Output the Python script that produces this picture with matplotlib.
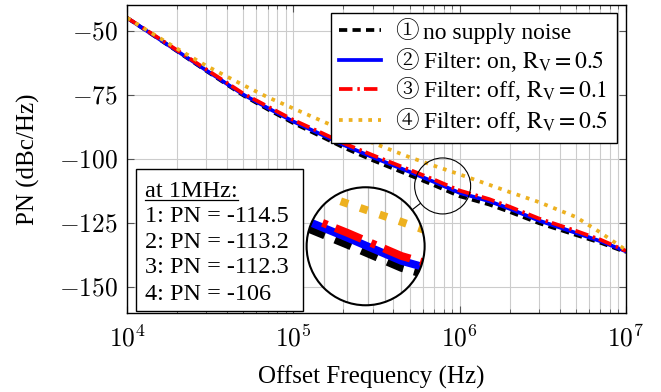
import numpy as np
import matplotlib
matplotlib.use("Agg")
import matplotlib.pyplot as plt
from matplotlib.patches import Circle, Rectangle
from matplotlib.lines import Line2D
from matplotlib.font_manager import FontProperties
from matplotlib.ticker import LogLocator, NullFormatter, FixedLocator
from matplotlib.transforms import IdentityTransform

# ---------------- data ----------------
freq = [1e4, 1.2e4, 2e4, 3e4, 5e4, 7e4, 1e5, 1.5e5, 2e5, 3e5, 5e5, 7e5,
        1e6, 1.5e6, 2e6, 3e6, 5e6, 7e6, 1e7]
pn_no_noise = [-45, -48.4, -58.0, -65.7, -75.2, -80.6, -86.0, -91.5, -95.5, -100.5,
               -106.3, -110.2, -114.5, -117.7, -120.6, -125.0, -129.6, -132.6, -136.3]
pn_filter_on = [-45, -48.4, -57.9, -65.5, -74.9, -80.1, -85.4, -90.7, -94.5, -99.3,
                -105.0, -108.9, -113.2, -116.4, -119.4, -124.0, -128.8, -132.0, -136.0]
pn_off_01 = [-45, -48.2, -57.6, -65.1, -74.5, -79.5, -84.8, -90.0, -93.8, -98.5,
             -104.2, -108.0, -112.3, -115.6, -118.6, -123.2, -128.0, -131.4, -135.8]
pn_off_05 = [-45, -48.2, -57.0, -63.7, -71.2, -75.9, -80.3, -85.3, -88.8, -93.7,
             -99.3, -102.6, -106.0, -110.0, -112.9, -116.8, -122.6, -128.6, -135.5]

circled = ["\u2460", "\u2461", "\u2462", "\u2463"]
label_texts = ["no supply noise",
               "Filter: on, $\\mathrm{R_V} = 0.5$",
               "Filter: off, $\\mathrm{R_V} = 0.1$",
               "Filter: off, $\\mathrm{R_V} = 0.5$"]
pn_at_1mhz = [-114.5, -113.2, -112.3, -106]
yticks = [-150, -125, -100, -75, -50]
xticks = [1e4, 1e5, 1e6, 1e7]
xtick_labels = ["$10^{4}$", "$10^{5}$", "$10^{6}$", "$10^{7}$"]

spy_point = (7.9e5, -110.5)     # centre of small circle (data)
lens_point = (2.72e5, -134.0)   # centre of magnifier (data)

# ---------------- style ----------------
serif = ["Liberation Serif", "DejaVu Serif"]
plt.rcParams["font.family"] = serif
plt.rcParams["mathtext.fontset"] = "cm"

W, H = 661, 392
fig = plt.figure(figsize=(W / 100, H / 100), dpi=100)
ax = fig.add_axes([127 / W, (H - 313) / H, 499 / W, 308 / H])

series = [pn_no_noise, pn_filter_on, pn_off_01, pn_off_05]
styles = [
    dict(color="black", ls=(0, (2.2, 1.4))),
    dict(color="#0000ff", ls="-"),
    dict(color="#ff0000", ls=(0, (3.6, 1.3, 0.65, 1.1))),
    dict(color="#EDB120", ls=(0, (1.0, 1.6))),
]
LW = 2.7
handles = []
for s, st, lab in zip(series, styles, label_texts):
    h, = ax.plot(freq, s, lw=LW, label=lab, dash_capstyle="butt", **st)
    handles.append(h)

ax.set_xscale("log")
ax.set_xlim(1e4, 1e7)
ax.set_ylim(-160, -40)
ax.xaxis.set_major_locator(FixedLocator(xticks))
ax.set_xticklabels(xtick_labels)
ax.xaxis.set_minor_locator(LogLocator(base=10, subs=np.arange(2, 10)))
ax.xaxis.set_minor_formatter(NullFormatter())
ax.set_yticks(yticks)
ax.set_yticklabels([f"${v}$" for v in yticks])
ax.tick_params(which="both", direction="in", top=True, right=True,
               labelsize=18.3, color="#555555")
ax.tick_params(which="major", length=5, width=0.8)
ax.tick_params(which="minor", length=3, width=0.6)
ax.tick_params(axis="y", pad=6.5)
ax.tick_params(axis="x", pad=9)
ax.grid(True, which="major", color="#cccccc", lw=0.8)
ax.grid(True, which="minor", axis="x", color="#cccccc", lw=0.8)
ax.set_axisbelow(True)
for sp in ax.spines.values():
    sp.set_linewidth(1.0)

fig.text(28 / W, 1 - 159 / H, "PN (dBc/Hz)", rotation=90, ha="center",
         va="center", fontsize=18)
fig.text(371 / W, 1 - 384 / H, "Offset Frequency (Hz)", ha="center",
         va="baseline", fontsize=18)

# legend (room between handle and text for the circled number)
lp = FontProperties(family=serif, size=17, math_fontfamily="stix")
leg = ax.legend(handles=handles, loc="upper right",
                bbox_to_anchor=((617 - 127) / 499, (313 - 13) / 308),
                borderaxespad=0, prop=lp, fancybox=False, framealpha=1,
                edgecolor="black", handlelength=1.75, handletextpad=1.78,
                borderpad=0.38, labelspacing=0.23)
leg.get_frame().set_linewidth(1.0)
leg.set_zorder(10)

# annotation box
bx0, bx1 = (136 - 127) / 499, (303 - 127) / 499
by0, by1 = (313 - 311) / 308, (313 - 169) / 308
ax.add_patch(Rectangle((bx0, by0), bx1 - bx0, by1 - by0, transform=ax.transAxes,
                       facecolor="white", edgecolor="black", lw=1.0, zorder=9))
tx = (145 - 127) / 499
baselines = [196.7, 221.9, 247.5, 273.3, 299.5]
lines = ["at 1MHz:"] + [f"{i + 1}: PN = {v:g}" for i, v in enumerate(pn_at_1mhz)]
texts = []
for b, t in zip(baselines, lines):
    texts.append(ax.text(tx, (313 - b) / 308, t, transform=ax.transAxes,
                         fontsize=17.5, va="baseline", ha="left", zorder=11))

fig.canvas.draw()
r = fig.canvas.get_renderer()
bb = texts[0].get_window_extent(r)
yb = ax.transAxes.transform((0, (313 - baselines[0]) / 308))[1] - 3.5
fig.add_artist(Line2D([bb.x0, bb.x1], [yb, yb], transform=IdentityTransform(),
                      color="black", lw=0.9))

# circled numbers in front of the legend entries
cf = FontProperties(family=["Liberation Serif", "Noto Serif CJK JP",
                            "Noto Sans CJK JP", "DejaVu Sans"], size=17)
for t, c in zip(leg.get_texts(), circled):
    px, py = t.get_transform().transform(t.get_position())
    fig.text(px - 28, py, c, fontproperties=cf, transform=IdentityTransform(),
             ha="left", va="baseline", zorder=20)

# ---------------- spy / magnifier ----------------
r_small = 28.0
R_big = 59.0
mag = R_big / r_small
scx, scy = ax.transData.transform(spy_point)
bcx, bcy = ax.transData.transform(lens_point)

small = Circle((scx, scy), r_small, transform=IdentityTransform(), fill=False,
               edgecolor="black", lw=0.8, zorder=12)
fig.add_artist(small)

d = np.array([scx - bcx, scy - bcy])
u = d / np.linalg.norm(d)
p0 = np.array([bcx, bcy]) + u * R_big
p1 = np.array([scx, scy]) - u * r_small
fig.add_artist(Line2D([p0[0], p1[0]], [p0[1], p1[1]], transform=IdentityTransform(),
                      color="black", lw=0.8))

inv = ax.transData.inverted()
(xl0, yl0) = inv.transform((scx - r_small, scy - r_small))
(xl1, yl1) = inv.transform((scx + r_small, scy + r_small))

ins = fig.add_axes([(bcx - R_big) / W, (bcy - R_big) / H, 2 * R_big / W, 2 * R_big / H])
ins.set_xscale("log")
ins.set_xlim(xl0, xl1)
ins.set_ylim(yl0, yl1)
ins.set_axis_off()
clip = Circle((0.5, 0.5), 0.5, transform=ins.transAxes)
bg = Circle((0.5, 0.5), 0.5, transform=ins.transAxes, facecolor="white",
            edgecolor="none", zorder=0)
ins.add_artist(bg)
gx = [v for v in LogLocator(base=10, subs=np.arange(1, 10)).tick_values(xl0, xl1)
      if xl0 < v < xl1]
for v in gx:
    g = ins.axvline(v, color="#bbbbbb", lw=0.9, zorder=1)
    g.set_clip_path(clip)
for s, st in zip(series, styles):
    ln, = ins.plot(freq, s, lw=LW * mag, dash_capstyle="butt", zorder=2, **st)
    ln.set_clip_path(clip)
ins.add_artist(Circle((0.5, 0.5), 0.5, transform=ins.transAxes, fill=False,
                      edgecolor="black", lw=1.5, zorder=5, clip_on=False))

fig.savefig("out.png", dpi=100)
